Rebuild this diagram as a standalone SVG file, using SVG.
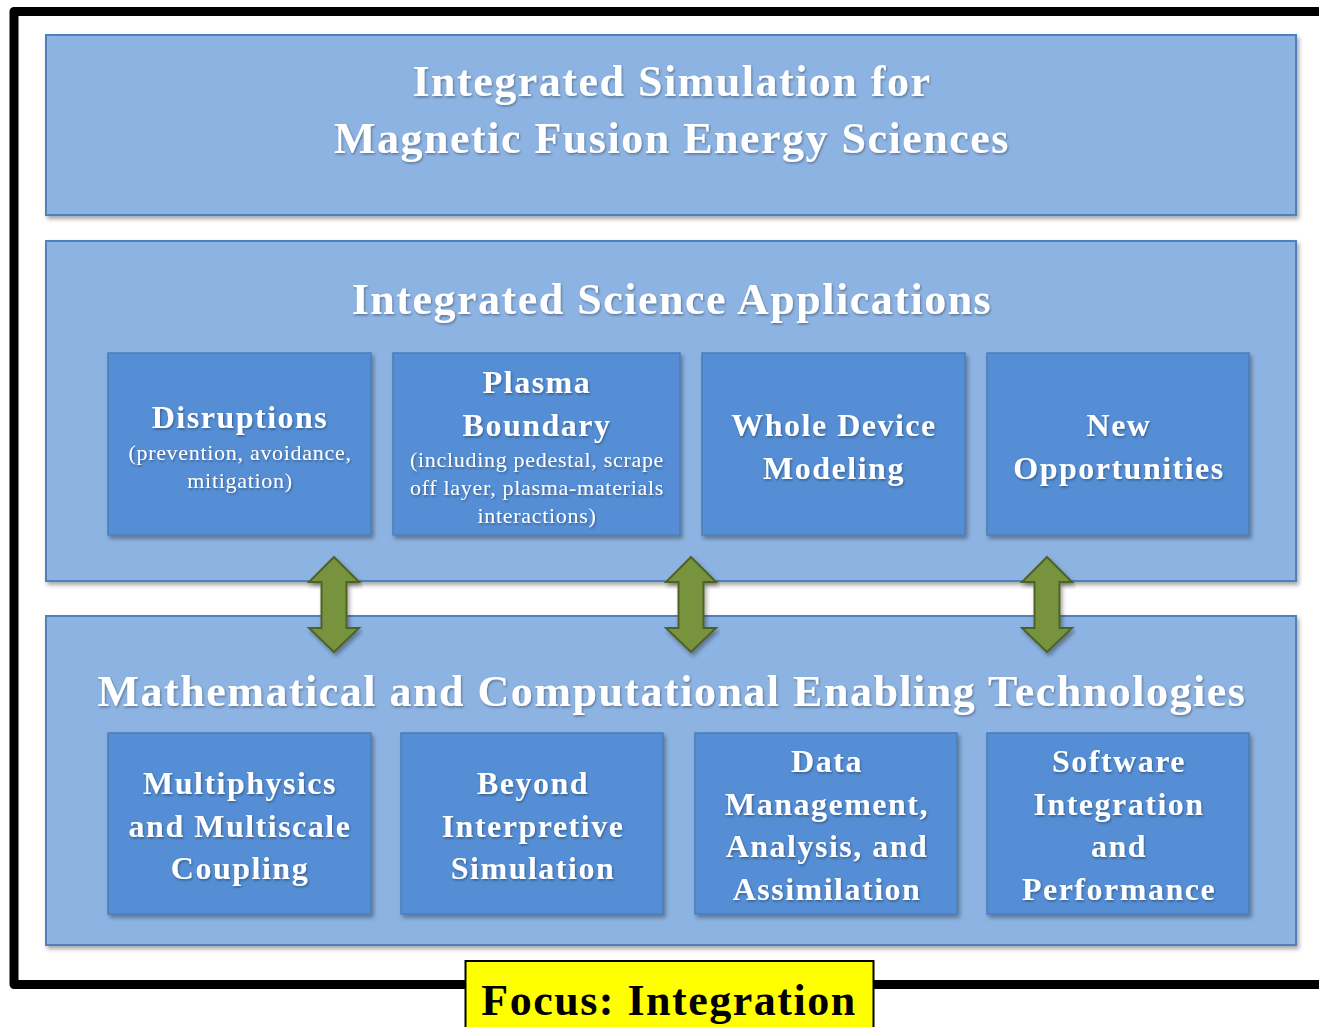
<svg xmlns="http://www.w3.org/2000/svg" width="1319" height="1027" viewBox="0 0 1319 1027">
  <defs>
    <filter id="shadow" x="-5%" y="-5%" width="112%" height="115%">
      <feDropShadow dx="2" dy="3" stdDeviation="2" flood-color="#000" flood-opacity="0.35"/>
    </filter>
    <filter id="tshadow" x="-5%" y="-20%" width="110%" height="140%">
      <feDropShadow dx="1" dy="1.5" stdDeviation="0.8" flood-color="#000" flood-opacity="0.35"/>
    </filter>
    <!-- double-headed vertical arrow, centred on x=0, spanning y 0..95 -->
    <path id="dblArrow" d="M0,0 L25,25 L12.5,25 L12.5,71 L25,71 L0,95 L-25,71 L-12.5,71 L-12.5,25 L-25,25 Z"/>
  </defs>
  <style>
    .panel { fill: #8DB3E2; stroke: #4F81BD; stroke-width: 2; }
    .box { fill: #558ED5; stroke: #4A7EBB; stroke-width: 1.5; }
    .arrow { fill: #77933C; stroke: #4F6228; stroke-width: 2; }
    text { font-family: "Liberation Serif", "Times New Roman", serif; fill: #fff; text-anchor: middle; }
    .title { font-size: 44px; font-weight: bold; letter-spacing: 1.5px; }
    .head { font-size: 32px; font-weight: bold; letter-spacing: 1.5px; }
    .sub { font-size: 22px; letter-spacing: 0.7px; }
    .focus { font-size: 44px; font-weight: bold; fill: #000; letter-spacing: 1.5px; }
  </style>

  <rect width="1319" height="1027" fill="#fff"/>

  <!-- outer frame (right edge runs past the canvas) -->
  <path d="M1330,11.5 L14,11.5 L14,984.5 L1330,984.5" fill="none" stroke="#000" stroke-width="9" stroke-linejoin="round"/>

  <!-- top banner -->
  <g id="banner">
    <rect class="panel" x="46" y="35" width="1250" height="180" filter="url(#shadow)"/>
    <g filter="url(#tshadow)">
      <text class="title" x="672" y="96">Integrated Simulation for</text>
      <text class="title" x="672" y="153">Magnetic Fusion Energy Sciences</text>
    </g>
  </g>

  <!-- science applications panel -->
  <g id="applications">
    <rect class="panel" x="46" y="241" width="1250" height="340" filter="url(#shadow)"/>
    <text class="title" x="672" y="314" filter="url(#tshadow)">Integrated Science Applications</text>
  </g>

  <!-- enabling technologies panel -->
  <g id="technologies">
    <rect class="panel" x="46" y="616" width="1250" height="329" filter="url(#shadow)"/>
    <text class="title" x="672" y="706" filter="url(#tshadow)">Mathematical and Computational Enabling Technologies</text>
  </g>

  <!-- application boxes -->
  <g id="disruptions">
    <rect class="box" x="108" y="353" width="263" height="182" filter="url(#shadow)"/>
    <g filter="url(#tshadow)">
      <text class="head" x="240" y="428">Disruptions</text>
      <text class="sub" x="240" y="460">(prevention, avoidance,</text>
      <text class="sub" x="240" y="488">mitigation)</text>
    </g>
  </g>
  <g id="plasma-boundary">
    <rect class="box" x="393" y="353" width="287" height="182" filter="url(#shadow)"/>
    <g filter="url(#tshadow)">
      <text class="head" x="537" y="393">Plasma</text>
      <text class="head" x="537" y="436">Boundary</text>
      <text class="sub" x="537" y="467">(including pedestal, scrape</text>
      <text class="sub" x="537" y="495">off layer, plasma-materials</text>
      <text class="sub" x="537" y="523">interactions)</text>
    </g>
  </g>
  <g id="whole-device">
    <rect class="box" x="702" y="353" width="263" height="182" filter="url(#shadow)"/>
    <g filter="url(#tshadow)">
      <text class="head" x="834" y="436">Whole Device</text>
      <text class="head" x="834" y="479">Modeling</text>
    </g>
  </g>
  <g id="new-opportunities">
    <rect class="box" x="987" y="353" width="262" height="182" filter="url(#shadow)"/>
    <g filter="url(#tshadow)">
      <text class="head" x="1119" y="436">New</text>
      <text class="head" x="1119" y="479">Opportunities</text>
    </g>
  </g>

  <!-- technology boxes -->
  <g id="multiphysics">
    <rect class="box" x="108" y="733" width="263" height="181" filter="url(#shadow)"/>
    <g filter="url(#tshadow)">
      <text class="head" x="240" y="794">Multiphysics</text>
      <text class="head" x="240" y="837">and Multiscale</text>
      <text class="head" x="240" y="879">Coupling</text>
    </g>
  </g>
  <g id="beyond-interpretive">
    <rect class="box" x="401" y="733" width="262" height="181" filter="url(#shadow)"/>
    <g filter="url(#tshadow)">
      <text class="head" x="533" y="794">Beyond</text>
      <text class="head" x="533" y="837">Interpretive</text>
      <text class="head" x="533" y="879">Simulation</text>
    </g>
  </g>
  <g id="data-management">
    <rect class="box" x="695" y="733" width="262" height="181" filter="url(#shadow)"/>
    <g filter="url(#tshadow)">
      <text class="head" x="827" y="772">Data</text>
      <text class="head" x="827" y="815">Management,</text>
      <text class="head" x="827" y="857">Analysis, and</text>
      <text class="head" x="827" y="900">Assimilation</text>
    </g>
  </g>
  <g id="software-integration">
    <rect class="box" x="987" y="733" width="262" height="181" filter="url(#shadow)"/>
    <g filter="url(#tshadow)">
      <text class="head" x="1119" y="772">Software</text>
      <text class="head" x="1119" y="815">Integration</text>
      <text class="head" x="1119" y="857">and</text>
      <text class="head" x="1119" y="900">Performance</text>
    </g>
  </g>

  <!-- two-way connectors between the panels -->
  <g id="connectors">
    <use href="#dblArrow" class="arrow" x="334" y="557" filter="url(#shadow)"/>
    <use href="#dblArrow" class="arrow" x="691" y="557" filter="url(#shadow)"/>
    <use href="#dblArrow" class="arrow" x="1047" y="557" filter="url(#shadow)"/>
  </g>

  <!-- focus label -->
  <g id="focus">
    <rect x="465.5" y="961" width="408" height="72" fill="#FFFF00" stroke="#000" stroke-width="2"/>
    <text class="focus" x="669" y="1015">Focus: Integration</text>
  </g>
</svg>
